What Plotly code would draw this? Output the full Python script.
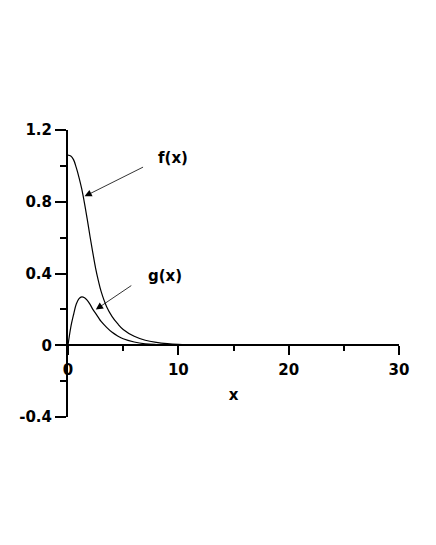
import plotly.graph_objects as go

# values
x_vals = [0, 0.25, 0.5, 0.75, 1.0, 1.25, 1.5, 1.75, 2.0, 2.25, 2.5, 2.75, 3.0,
          3.5, 4.0, 4.5, 5.0, 6.0, 7.0, 8.0, 9.0, 10.0, 12.0, 15.0, 20.0, 25.0, 30.0]
f_vals = [1.06, 1.055, 1.035, 0.99, 0.935, 0.87, 0.79, 0.70, 0.605, 0.515, 0.43, 0.36, 0.30,
          0.215, 0.16, 0.12, 0.088, 0.05, 0.028, 0.016, 0.009, 0.005, 0.002, 0.0005, 0, 0, 0]
g_vals = [0, 0.10, 0.17, 0.23, 0.26, 0.27, 0.265, 0.25, 0.228, 0.20, 0.178, 0.155, 0.133,
          0.10, 0.072, 0.052, 0.036, 0.018, 0.008, 0.004, 0.002, 0.001, 0, 0, 0, 0, 0]

y_ticks = [-0.4, 0, 0.4, 0.8, 1.2]
y_ticktext = ["-0.4", "0", "0.4", "0.8", "1.2"]
y_minor = [-0.2, 0.2, 0.6, 1.0]
x_ticks = [0, 10, 20, 30]
x_minor = [5, 15, 25]

FONT = dict(family="DejaVu Sans", size=15, color="black", weight="bold")

fig = go.Figure()
fig.add_trace(go.Scatter(x=x_vals, y=f_vals, mode="lines", line=dict(color="black", width=1.2, shape="spline"),
                         name="f(x)", hoverinfo="skip"))
fig.add_trace(go.Scatter(x=x_vals, y=g_vals, mode="lines", line=dict(color="black", width=1.2, shape="spline"),
                         name="g(x)", hoverinfo="skip"))

# labels and pointer arrows
fig.add_annotation(x=9.48, y=1.046, text="f(x)", showarrow=False, font=FONT)
fig.add_annotation(x=8.80, y=0.384, text="g(x)", showarrow=False, font=FONT)
fig.add_annotation(x=1.50, y=0.830, ax=60, ay=-30, text="", showarrow=True,
                   arrowhead=2, arrowsize=1.8, arrowwidth=0.8, arrowcolor="black")
fig.add_annotation(x=2.52, y=0.199, ax=37, ay=-25, text="", showarrow=True,
                   arrowhead=2, arrowsize=1.8, arrowwidth=0.8, arrowcolor="black")

# page body adds ~8px offset, so margins are shifted to compensate
fig.update_layout(
    width=436, height=545,
    margin=dict(l=60, r=45, t=122, b=136),
    paper_bgcolor="white", plot_bgcolor="white",
    showlegend=False,
    font=FONT,
    xaxis=dict(
        range=[0, 30], anchor="free", position=0.25,
        showgrid=False, zeroline=False,
        showline=True, linecolor="black", linewidth=2,
        tickmode="array", tickvals=x_ticks,
        ticks="outside", ticklen=9, tickwidth=1.5, tickcolor="black",
        ticklabelstandoff=2,
        minor=dict(tickvals=x_minor, ticks="outside", ticklen=5, tickwidth=1.5, tickcolor="black"),
        tickfont=FONT,
        title=dict(text="x", font=FONT, standoff=10),
    ),
    yaxis=dict(
        range=[-0.4, 1.2],
        showgrid=False, zeroline=False,
        showline=True, linecolor="black", linewidth=2,
        tickmode="array", tickvals=y_ticks, ticktext=y_ticktext,
        ticks="outside", ticklen=11, tickwidth=1.5, tickcolor="black",
        minor=dict(tickvals=y_minor, ticks="outside", ticklen=6, tickwidth=1.5, tickcolor="black"),
        tickfont=FONT,
    ),
)

fig.write_html("out.html")
